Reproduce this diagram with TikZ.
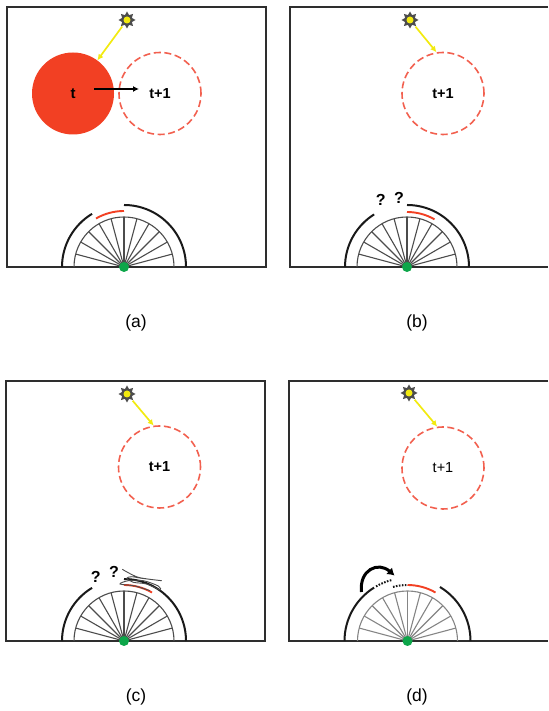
\documentclass[tikz,border=0pt]{standalone}
\usepackage{fontspec}
\setmainfont{Liberation Sans}
\usepackage{tikz}
\usetikzlibrary{arrows.meta,positioning,shapes.geometric}

\definecolor{fillred}{HTML}{F24023}
\definecolor{dashred}{HTML}{F2604F}
\definecolor{sunyel}{HTML}{F2EA10}
\definecolor{dotgreen}{HTML}{0DA64A}
\definecolor{frameblk}{HTML}{2E2E2E}

\begin{document}
\begin{tikzpicture}[
  x=1pt, y=1pt,
  >=Latex,
  frame/.style={draw=frameblk, line width=2.1pt},
  cellnow/.style={circle, fill=fillred, minimum size=82pt, inner sep=0pt, font=\fontsize{15}{15}\selectfont\bfseries},
  cellnext/.style={circle, draw=dashred, line width=1.6pt, dash pattern=on 7pt off 3.6pt, minimum size=82pt, inner sep=0pt, font=\fontsize{14.5}{15}\selectfont\bfseries},
  sunmark/.style={star, star points=8, star point ratio=1.6, fill=black!70, minimum size=17pt, inner sep=0pt},
  suncore/.style={circle, fill=sunyel, minimum size=7pt, inner sep=0pt},
  sunarr/.style={draw=sunyel, line width=1.7pt, arrows={-Latex[length=6pt,width=6pt]}, shorten <=1pt},
  arr/.style={line width=1.4pt, arrows={-Latex[length=6pt,width=6pt]}},
  rim/.style={line width=2pt, draw=black!90},
  rimred/.style={line width=1.9pt, draw=fillred},
  rimdot/.style={line width=2pt, draw=black!90, dash pattern=on 1.6pt off 1.4pt},
  pivot/.style={circle, fill=dotgreen, minimum size=10pt, inner sep=0pt},
  query/.style={font=\fontsize{16}{16}\selectfont\bfseries},
  caption/.style={font=\fontsize{17.5}{18}\selectfont}
]
\useasboundingbox (0,0) rectangle (548,711);

% frames
\draw[frame] (7,704) rectangle (266,444);
\draw[frame] (548,704) -| (290,444) -- (548,444);
\draw[frame] (6,330) rectangle (265,70);
\draw[frame] (548,330) -| (289,70) -- (548,70);

% fans
\foreach \cx/\cy/\shade in {124/444/70, 407/444/70, 124/70/70, 407.5/70/48} {
  \foreach \a in {15,30,...,165} {
    \draw[black!\shade!white, line width=1.1pt] (\cx,\cy) -- ++(\a:50);
  }
  \draw[black!\shade!white, line width=1.1pt] (\cx,\cy) ++(0:50) arc (0:180:50);
}

% panel a
\node[cellnow] (cella) at (73,617.5) {t};
\node[cellnext] (nexta) at (160,617.5) {t+1};
\node[sunmark] (suna) at (127,691) {};
\node[suncore] at (suna) {};
\draw[sunarr] (suna) -- (cella);
\coordinate (fromt) at (94,622);
\coordinate (tot) at (139,622);
\draw[arr] (fromt) -- (tot);
\draw[rim] (124,444) ++(180:62) arc (180:121:62);
\draw[rimred] (124,444) ++(120:56) arc (120:90:56);
\draw[rim] (124,444) ++(90:62) arc (90:0:62);
\node[pivot] (pivota) at (124,444) {};

% panel b
\node[cellnext] (nextb) at (443,617.5) {t+1};
\node[sunmark] (sunb) at (410,691) {};
\node[suncore] at (sunb) {};
\draw[sunarr] (sunb) -- (nextb.99);
\draw[rim] (407,444) ++(180:62) arc (180:122:62);
\draw[rimred] (407,444) ++(90:55) arc (90:60:55);
\draw[rim] (407,444) ++(90:62) arc (90:0:62);
\node[query] (qba) at (380.7,511) {?};
\node[query] (qbb) at (399,513.3) {?};
\node[pivot] (pivotb) at (407,444) {};

% panel c
\node[cellnext] (nextc) at (159.5,244) {t+1};
\node[sunmark] (sunc) at (127,317) {};
\node[suncore] at (sunc) {};
\draw[sunarr] (sunc) -- (nextc.98);
\draw[rim] (124,70) ++(180:62) arc (180:121:62);
\draw[rimred] (124,70) ++(90:56) arc (90:60:56);
\draw[rim] (124,70) ++(90:62) arc (90:0:62);
\draw[black!70, line width=0.9pt] plot[smooth] coordinates {(122.3,141.7) (138.3,133.7) (161.7,130.3) (141.7,132.7) (131.7,134.3) (126.7,132.7) (133.3,128.7) (146.7,127) (160,121) (158.3,125) (143.3,130.3) (128.3,130.3) (120,127) (135,125) (150,120.3)};
\node[query] (qca) at (95.7,134.3) {?};
\node[query] (qcb) at (114,138.7) {?};
\node[pivot] (pivotc) at (124,70) {};

% panel d
\node[cellnext, font=\fontsize{14.5}{15}\selectfont] (nextd) at (443,243) {t+1};
\node[sunmark] (sund) at (409,318) {};
\node[suncore] at (sund) {};
\draw[sunarr] (sund) -- (nextd.98);
\draw[rim] (407.5,70) ++(180:63) arc (180:122:63);
\draw[rimdot] (407.5,70) ++(120:63) arc (120:104:63);
\draw[rimdot] (407.5,70) ++(105:56) arc (105:90:56);
\draw[rimred] (407.5,70) ++(90:56) arc (90:60:56);
\draw[rim] (407.5,70) ++(59:63) arc (59:0:63);
\coordinate (hopfrom) at (361.5,119);
\coordinate (hopto) at (394.5,135.5);
\draw[line width=3pt, arrows={-Latex[length=7pt,width=9pt]}] (hopfrom) .. controls (359,141) and (378,150) .. (hopto);
\node[pivot] (pivotd) at (407.5,70) {};

% captions
\node[caption] (labela) at (136,388) {(a)};
\node[caption] (labelb) at (417,388) {(b)};
\node[caption] (labelc) at (136,14) {(c)};
\node[caption] (labeld) at (417,14) {(d)};
\end{tikzpicture}
\end{document}
